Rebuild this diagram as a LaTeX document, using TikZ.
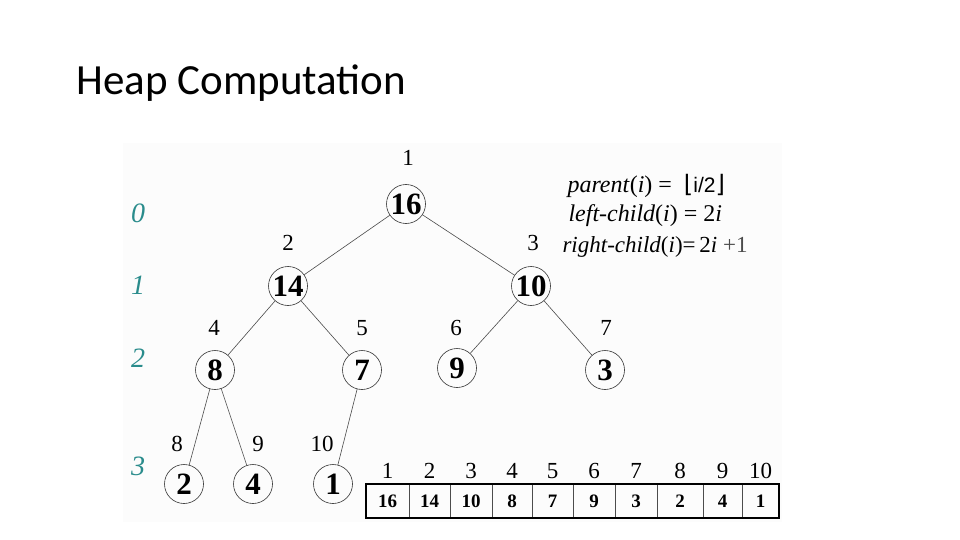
\documentclass[tikz,border=0pt]{standalone}
\usepackage{fontspec}
\setmainfont{Liberation Serif}
\newfontfamily\titlefont{Carlito}
\newfontfamily\symfont{DejaVu Sans}
\newfontfamily\plainsans{Liberation Sans}
\usetikzlibrary{positioning}
\definecolor{LevelTeal}{HTML}{2A8C8C}
\definecolor{EdgeGray}{HTML}{4A4A4A}
\definecolor{PanelTint}{HTML}{FCFCFC}

\begin{document}
\begin{tikzpicture}[x=1pt,y=-1pt,
    heapnode/.style={circle, draw=black!80, line width=0.6pt, minimum size=39pt, inner sep=0pt,
      font=\bfseries\fontsize{31}{31}\selectfont},
    idx/.style={font=\fontsize{23}{23}\selectfont},
    level/.style={text=LevelTeal, font=\itshape\fontsize{28}{28}\selectfont},
    edge/.style={draw=EdgeGray, line width=0.6pt},
    formula/.style={anchor=base west, font=\fontsize{24}{24}\selectfont},
    cell/.style={draw=black!70, line width=0.5pt, minimum height=34pt, inner sep=0pt,
      font=\bfseries\fontsize{19}{19}\selectfont}]
  \useasboundingbox (0,0) rectangle (960,540);
  \fill[PanelTint] (123,143) rectangle (782,522);

  % title
  \node[anchor=base west, font=\titlefont\fontsize{43}{48}\selectfont] (title) at (73,95) {Heap Computation};

  % tree
  \foreach \n/\x/\y/\v in {a/406/204/16, b/288/286/14, c/531/286/10, d/215/370/8,
    e/362/370/7, f/457/368/9, g/605/370/3, h/184/484/2, i/253/484/4, j/333/484/1}
    \node[heapnode] (\n) at (\x,\y) {\v};
  \foreach \p/\c in {a/b, a/c, b/d, b/e, c/f, c/g, d/h, d/i, e/j}
    \draw[edge] (\p) -- (\c);

  % positions in the array
  \foreach \t/\x/\y [count=\k] in {1/408/158, 2/288/243, 3/533/243, 4/214/328, 5/362/328,
    6/456/328, 7/606/328, 8/177/444, 9/258/444, 10/322/444}
    \node[idx] (pos\k) at (\x,\y) {\t};

  % levels
  \foreach \d/\y in {0/213, 1/285, 2/358, 3/466}
    \node[level] (lv\d) at (138,\y) {\d};

  % formulas
  \node[formula] (fpar) at (564,192) {\textit{parent}(\textit{i}) =~ {\symfont ⌊}{\plainsans\fontsize{21}{21}\selectfont i/2}{\symfont ⌋}};
  \node[formula] (flc) at (565,221) {\textit{left-child}(\textit{i}) = 2\textit{i}};
  \node[formula, font=\fontsize{23}{23}\selectfont] (frc) at (559,252)
    {\textit{right-child}(\textit{i})=\,2\textit{i} \textcolor{black!70}{+1}};

  % array
  \foreach \v/\l/\r [count=\k] in {16/366/409, 14/409/450, 10/450/492, 8/492/532, 7/532/573,
    9/573/615, 3/615/657, 2/657/703, 4/703/742, 1/742/779}
  {
    \node[cell, minimum width={(\r-\l)*1pt}] (c\k) at ({(\l+\r)/2},501) {\v};
    \node[idx, anchor=base] (ix\k) at ([yshift=5pt]c\k.north) {\k};
  }
  \draw[line width=1.6pt] (c1.north west) rectangle (c10.south east);
\end{tikzpicture}
\end{document}
